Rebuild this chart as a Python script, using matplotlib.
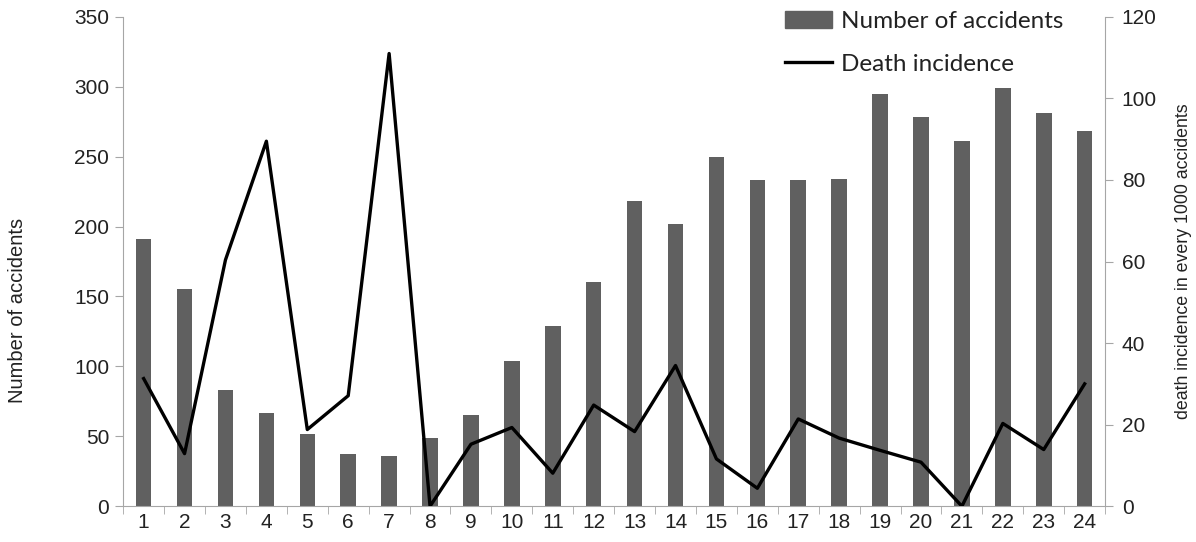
import numpy as np
import matplotlib.pyplot as plt
from matplotlib.patches import Patch
from matplotlib.lines import Line2D

hours = [str(h) for h in range(1, 25)]
accidents = [191, 155, 83, 67, 52, 37, 36, 49, 65, 104, 129, 160,
             218, 202, 250, 233, 233, 234, 295, 278, 261, 299, 281, 268]
death_incidence = [31.3, 12.9, 60.4, 89.5, 18.8, 27.1, 111, 0, 15.2, 19.3,
                   8.1, 24.8, 18.3, 34.5, 11.6, 4.4, 21.4, 16.7, 13.7, 10.8,
                   0, 20.3, 13.9, 30]

plt.rcParams['font.family'] = ['Liberation Sans', 'DejaVu Sans']
gray = '#a6a6a6'
txt = '#222222'

fig = plt.figure(figsize=(11.96, 5.42), dpi=100)
ax = fig.add_axes([0.103, 0.066, 0.821, 0.903])
x = np.arange(len(hours))
ax.bar(x, accidents, width=0.38, color='#606060', zorder=2)
ax.set_xlim(-0.5, len(hours) - 0.5)
ax.set_ylim(0, 350)
ax.set_yticks(range(0, 351, 50))
ax.set_xticks(x)
ax.set_xticklabels(hours)
ax.set_xticks(np.arange(-0.5, len(hours)), minor=True)
ax.tick_params(axis='x', which='major', length=0, labelsize=15, pad=5,
               labelcolor=txt)
ax.tick_params(axis='x', which='minor', length=6, color=gray)
ax.tick_params(axis='y', length=6, color=gray, labelsize=15, pad=4,
               labelcolor=txt)
ax.set_ylabel('Number of accidents', fontsize=14.5, color=txt)
ax.yaxis.set_label_coords(-0.098, 0.40)
for s in ['top', 'right']:
    ax.spines[s].set_visible(False)
for s in ['left', 'bottom']:
    ax.spines[s].set_color(gray)

ax2 = ax.twinx()
ax2.plot(x, death_incidence, color='black', lw=2.4, zorder=3)
ax2.set_ylim(0, 120)
ax2.set_yticks(range(0, 121, 20))
ax2.tick_params(axis='y', length=6, color=gray, labelsize=15, pad=6,
                labelcolor=txt)
ax2.set_ylabel('death incidence in every 1000 accidents', fontsize=12.8,
               color=txt)
ax2.yaxis.set_label_coords(1.071, 0.50)
for s in ['top', 'left', 'bottom']:
    ax2.spines[s].set_visible(False)
ax2.spines['right'].set_color(gray)

handles = [Patch(color='#606060'), Line2D([], [], color='black', lw=2.4)]
fig.legend(handles, ['Number of accidents', 'Death incidence'],
           loc='upper left', bbox_to_anchor=(785 / 1196, 0.979), frameon=False,
           prop={'family': 'Lato', 'size': 17.5}, handlelength=1.95,
           handletextpad=0.36, labelspacing=0.88, borderpad=0,
           borderaxespad=0, labelcolor=txt)

fig.savefig('out.png', dpi=100)
